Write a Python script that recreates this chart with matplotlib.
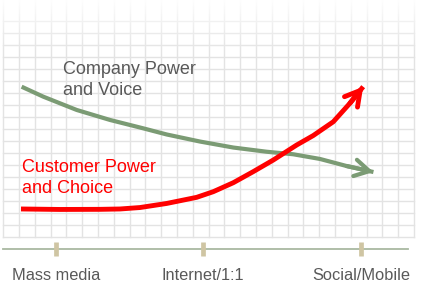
import numpy as np
import matplotlib.pyplot as plt

plt.rcParams['font.family'] = ['Liberation Sans', 'DejaVu Sans']

# x and y measured in grid cells (origin = bottom-left of the grid)
eras = ["Mass media", "Internet/1:1", "Social/Mobile"]
era_x = [3.34, 12.64, 22.64]

company_x = [1.16, 2.53, 4.65, 6.75, 8.86, 10.34, 12.45, 14.56, 16.67, 18.35, 20.04, 21.73, 23.43]
company_y = [12.50, 11.67, 10.56, 9.73, 9.03, 8.52, 7.93, 7.43, 7.08, 6.87, 6.48, 5.89, 5.39]

customer_x = [1.12, 3.59, 6.12, 7.39, 8.65, 10.34, 12.24, 13.29, 14.56, 15.82, 17.09,
              18.57, 19.62, 20.89, 21.94, 22.78]
customer_y = [2.31, 2.27, 2.28, 2.31, 2.43, 2.77, 3.28, 3.75, 4.50, 5.42, 6.39,
              7.64, 8.43, 9.58, 11.12, 12.50]

GREEN = '#7b9b74'
RED = '#ff0000'
GREY = '#595959'

fig = plt.figure(figsize=(4.24, 2.85), dpi=100)
ax = fig.add_axes([0, 0, 1, 1])
ax.set_xlim(-0.209, 26.63)
ax.set_ylim(-4.025, 19.725)
ax.axis('off')

# grid paper
for i in range(27):
    ax.plot([i, i], [0, 19.7], color='#e3e3e3', lw=1.0, zorder=1)
for j in range(19):
    ax.plot([0, 26], [j, j], color='#e3e3e3', lw=1.0, zorder=1)

# fade the grid out towards the top
fade = np.ones((64, 1, 4))
fade[:, 0, 3] = np.linspace(0, 1, 64) ** 1.3
ax.imshow(fade, extent=[-0.3, 26.7, 14.8, 19.8], origin='lower',
          aspect='auto', zorder=2, interpolation='bilinear')

# time axis
ax.plot([-0.02, 25.6], [-1.03, -1.03], color='#a9b9a1', lw=1.3, zorder=3)
for x, lab in zip(era_x, eras):
    ax.plot([x, x], [-0.44, -1.61], color='#cfc5a3', lw=3.4,
            solid_capstyle='butt', zorder=4)
    ax.text(x, -3.61, lab, ha='center', va='baseline', fontsize=11.8, color=GREY)

# curves
def arrow_line(xs, ys, color, lw):
    ax.plot(xs, ys, color=color, lw=lw, solid_joinstyle='round',
            solid_capstyle='butt', zorder=5)
    ax.annotate('', xy=(xs[-1], ys[-1]), xytext=(xs[-2], ys[-2]),
                arrowprops=dict(arrowstyle='->,head_length=1.05,head_width=0.6',
                                color=color, lw=lw, mutation_scale=10,
                                shrinkA=0, shrinkB=0),
                zorder=5)

arrow_line(company_x, company_y, GREEN, 3.0)
arrow_line(customer_x, customer_y, RED, 3.5)

ax.text(3.76, 13.56, "Company Power", fontsize=13, color=GREY, va='baseline')
ax.text(3.76, 11.81, "and Voice", fontsize=13, color=GREY, va='baseline')
ax.text(1.16, 5.42, "Customer Power", fontsize=13, color=RED, va='baseline')
ax.text(1.16, 3.64, "and Choice", fontsize=13, color=RED, va='baseline')

fig.savefig('out.png', dpi=100)
